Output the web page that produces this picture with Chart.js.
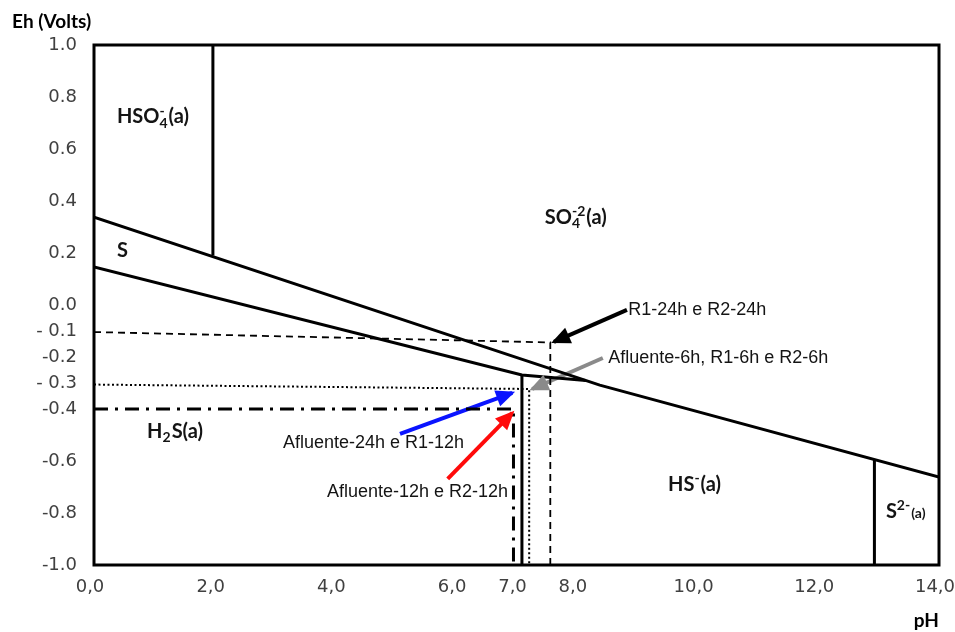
<!DOCTYPE html>
<html>
<head>
<meta charset="utf-8">
<script src="https://cdn.jsdelivr.net/npm/chart.js@4.4.0/dist/chart.umd.min.js"></script>
<style>
  html, body { margin: 0; padding: 0; background: #fff; }
  #wrap { width: 955px; height: 632px; }
</style>
</head>
<body>
<div id="wrap"><canvas id="chart"></canvas></div>
<script>
// Eh-pH diagram for sulfur (pH on x, Eh in volts on y)
const xTicks = [0, 2, 4, 6, 7, 8, 10, 12, 14];
const yTicks = [1.0, 0.8, 0.6, 0.4, 0.2, 0.0, -0.1, -0.2, -0.3, -0.4, -0.6, -0.8, -1.0];
const yTickLabels = ['1.0', '0.8', '0.6', '0.4', '0.2', '0.0', '- 0.1', '-0.2', '- 0.3', '-0.4', '-0.6', '-0.8', '-1.0'];

// phase boundaries
const upperPH = [0, 8.38, 14];
const upperEh = [0.338, -0.308, -0.662];
const lowerPH = [0, 7.09, 8.15];
const lowerEh = [0.146, -0.269, -0.29];
const hso4PH = [1.97, 1.97];
const hso4Eh = [1.0, 0.19];
const h2sPH = [7.09, 7.09];
const h2sEh = [-0.269, -1.0];
const s2PH = [12.93, 12.93];
const s2Eh = [-0.595, -1.0];

// measured samples (horizontal to pH, then down)
const r24PH = [0, 7.56, 7.56];
const r24Eh = [-0.104, -0.144, -1.0];
const af6PH = [0, 7.21, 7.21];
const af6Eh = [-0.306, -0.323, -1.0];
const af24PH = [0, 6.95, 6.95];
const af24Eh = [-0.4, -0.4, -1.0];

// arrows: [tail, head]
const arrowBlackPH = [8.83, 7.62];
const arrowBlackEh = [-0.019, -0.142];
const arrowGrayPH = [8.43, 7.26];
const arrowGrayEh = [-0.204, -0.323];
const arrowBluePH = [5.07, 6.93];
const arrowBlueEh = [-0.496, -0.338];
const arrowRedPH = [5.86, 6.93];
const arrowRedEh = [-0.669, -0.415];

// region names (parts: text, kind) and where they sit
const regionNames = [
  [['HSO', 'n'], ['4', 'sub'], ['-', 'sup'], ['(a)', 'n']],
  [['S', 'n']],
  [['SO', 'n'], ['4', 'sub'], ['-2', 'sup'], ['(a)', 'n']],
  [['H', 'n'], ['2', 'sub'], ['S(a)', 'n']],
  [['HS', 'n'], ['-', 'sup'], ['(a)', 'n']],
  [['S', 'n'], ['2-', 'sup'], ['(a)', 'small']]
];
const regionPH = [0.38, 0.38, 7.47, 0.88, 9.51, 13.12];
const regionEh = [0.723, 0.208, 0.335, -0.488, -0.692, -0.796];

const noteTexts = ['R1-24h e R2-24h', 'Afluente-6h, R1-6h e R2-6h', 'Afluente-24h e R1-12h', 'Afluente-12h e R2-12h'];
const notePH = [8.85, 8.52, 3.13, 3.86];
const noteEh = [-0.019, -0.204, -0.531, -0.719];

function pts(xs, ys) {
  return xs.map((x, i) => ({ x: x, y: ys[i] }));
}

function boundary(xs, ys) {
  return { data: pts(xs, ys), borderColor: '#000', borderWidth: 3, borderJoinStyle: 'miter' };
}

function arrow(xs, ys, color) {
  return { data: pts(xs, ys), borderColor: color, borderWidth: 4, arrow: true };
}

// black frame round the plot
const framePlugin = {
  id: 'frame',
  afterDraw(chart) {
    const a = chart.chartArea, ctx = chart.ctx;
    ctx.save();
    ctx.strokeStyle = '#000';
    ctx.lineWidth = 3;
    ctx.strokeRect(a.left, a.top, a.right - a.left, a.bottom - a.top);
    ctx.restore();
  }
};

// arrow heads at the last point of the arrow datasets
const arrowPlugin = {
  id: 'arrowHeads',
  afterDatasetsDraw(chart) {
    const ctx = chart.ctx;
    chart.data.datasets.forEach((ds, i) => {
      if (!ds.arrow) return;
      const pts = chart.getDatasetMeta(i).data;
      const p0 = pts[pts.length - 2], p1 = pts[pts.length - 1];
      const ang = Math.atan2(p1.y - p0.y, p1.x - p0.x);
      const len = 19, half = 8.5;
      const tx = p1.x + Math.cos(ang) * 3, ty = p1.y + Math.sin(ang) * 3;
      ctx.save();
      ctx.fillStyle = ds.borderColor;
      ctx.beginPath();
      ctx.moveTo(tx, ty);
      ctx.lineTo(tx - len * Math.cos(ang) + half * Math.sin(ang), ty - len * Math.sin(ang) - half * Math.cos(ang));
      ctx.lineTo(tx - len * Math.cos(ang) - half * Math.sin(ang), ty - len * Math.sin(ang) + half * Math.cos(ang));
      ctx.closePath();
      ctx.fill();
      ctx.restore();
    });
  }
};

// region names and sample notes
const labelPlugin = {
  id: 'labels',
  afterDatasetsDraw(chart) {
    const ctx = chart.ctx, sx = chart.scales.x, sy = chart.scales.y;
    ctx.save();
    ctx.textBaseline = 'middle';
    ctx.textAlign = 'left';
    ctx.fillStyle = '#141414';
    regionNames.forEach((parts, i) => {
      let x = sx.getPixelForValue(regionPH[i]);
      const y = sy.getPixelForValue(regionEh[i]);
      let prev = null, subX = 0, subW = 0;
      parts.forEach(([t, kind]) => {
        let size = 20, dy = 0;
        if (kind === 'sub') { size = 14; dy = 6; }
        if (kind === 'sup') { size = 14; dy = -6; }
        if (kind === 'small') { size = 14; dy = 2; }
        ctx.font = 'bold ' + size + 'px Lato, "Open Sans", sans-serif';
        const w = ctx.measureText(t).width;
        if (kind === 'sup' && prev === 'sub') {
          ctx.fillText(t, subX, y + dy);
          x = subX + Math.max(w, subW) + 1;
        } else {
          if (kind === 'sub') { subX = x; subW = w; }
          ctx.fillText(t, x, y + dy);
          x += w + (kind === 'n' ? 0 : 1);
        }
        prev = kind;
      });
    });
    ctx.font = '18px "Liberation Sans", Arial, sans-serif';
    noteTexts.forEach((t, i) => {
      ctx.fillText(t, sx.getPixelForValue(notePH[i]), sy.getPixelForValue(noteEh[i]));
    });
    ctx.restore();
  }
};

const tickFont = { family: '"DejaVu Sans", sans-serif', size: 18 };

new Chart(document.getElementById('chart'), {
  type: 'scatter',
  data: {
    datasets: [
      boundary(upperPH, upperEh),
      boundary(lowerPH, lowerEh),
      boundary(hso4PH, hso4Eh),
      boundary(h2sPH, h2sEh),
      boundary(s2PH, s2Eh),
      { data: pts(r24PH, r24Eh), borderColor: '#000', borderWidth: 1.8, borderDash: [7, 5] },
      { data: pts(af6PH, af6Eh), borderColor: '#000', borderWidth: 2, borderDash: [2, 2.5] },
      { data: pts(af24PH, af24Eh), borderColor: '#000', borderWidth: 3, borderDash: [14, 7, 3, 7] },
      arrow(arrowBlackPH, arrowBlackEh, '#000'),
      arrow(arrowGrayPH, arrowGrayEh, '#8a8a8a'),
      arrow(arrowBluePH, arrowBlueEh, '#0a14ff'),
      arrow(arrowRedPH, arrowRedEh, '#ff0a0a')
    ]
  },
  options: {
    responsive: true,
    maintainAspectRatio: false,
    animation: false,
    showLine: true,
    elements: { point: { radius: 0, hoverRadius: 0 }, line: { tension: 0 } },
    layout: { padding: { left: 12, right: 16, top: 0, bottom: 0 } },
    plugins: {
      legend: { display: false },
      tooltip: { enabled: false },
      title: {
        display: true,
        text: 'Eh (Volts)',
        align: 'start',
        color: '#000',
        font: { family: 'Lato, "Open Sans", sans-serif', size: 19, weight: 'bold' },
        padding: { top: 10, bottom: 12.2 }
      }
    },
    scales: {
      x: {
        type: 'linear',
        min: 0,
        max: 14,
        grid: { display: false, drawTicks: false },
        border: { display: false },
        afterBuildTicks: s => { s.ticks = xTicks.map(v => ({ value: v })); },
        afterFit: s => { s.height = 67; s.paddingLeft = 0; s.paddingRight = 0; },
        ticks: {
          autoSkip: false,
          maxRotation: 0,
          padding: 12,
          labelOffset: -4,
          color: '#404040',
          font: tickFont,
          callback: v => v.toFixed(1).replace('.', ',')
        },
        title: {
          display: true,
          text: 'pH',
          align: 'end',
          color: '#000',
          padding: 0,
          font: { family: 'Lato, "Open Sans", sans-serif', size: 19, weight: 'bold' }
        }
      },
      y: {
        type: 'linear',
        min: -1,
        max: 1,
        grid: { display: false, drawTicks: false },
        border: { display: false },
        afterBuildTicks: s => { s.ticks = yTicks.map(v => ({ value: v })); },
        afterFit: s => { s.width = 82; s.paddingTop = 0; s.paddingBottom = 0; },
        ticks: {
          autoSkip: false,
          padding: 17,
          color: '#404040',
          font: tickFont,
          callback: (v, i) => yTickLabels[i]
        }
      }
    }
  },
  plugins: [framePlugin, arrowPlugin, labelPlugin]
});
</script>
</body>
</html>
